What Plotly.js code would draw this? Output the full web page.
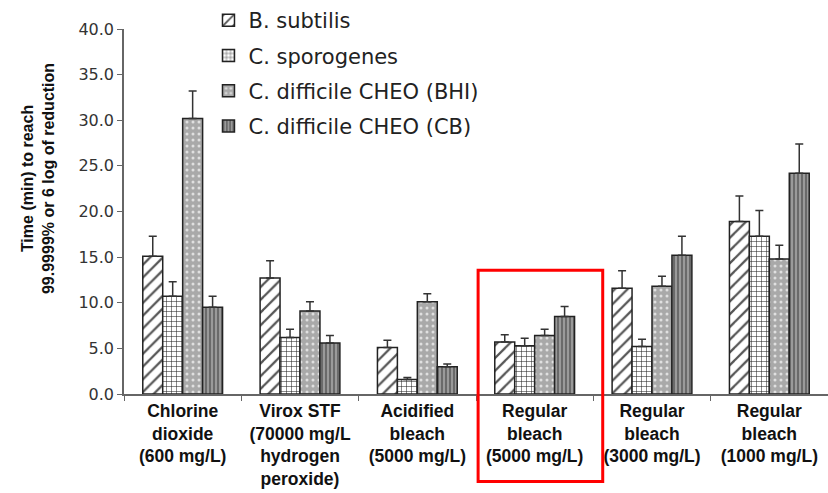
<!DOCTYPE html>
<html><head><meta charset="utf-8">
<script src="https://cdn.plot.ly/plotly-3.0.1.min.js"></script>
<style>body{margin:0;background:#fff}#c{width:828px;height:493px}</style>
</head><body><div id="c"></div>
<script>
const categories = [
  "Chlorine<br>dioxide<br>(600 mg/L)",
  "Virox STF<br>(70000 mg/L<br>hydrogen<br>peroxide)",
  "Acidified<br>bleach<br>(5000 mg/L)",
  "Regular<br>bleach<br>(5000 mg/L)",
  "Regular<br>bleach<br>(3000 mg/L)",
  "Regular<br>bleach<br>(1000 mg/L)"
];
const seriesNames = ["B. subtilis", "C. sporogenes", "C. difficile CHEO (BHI)", "C. difficile CHEO (CB)"];
const yTitle = "Time (min) to reach<br>99.9999% or 6 log of reduction";
const bSubtilis     = [15.1, 12.7, 5.1, 5.7, 11.6, 18.9];
const bSubtilisErr  = [2.2, 1.9, 0.8, 0.8, 1.9, 2.8];
const cSporogenes    = [10.7, 6.2, 1.6, 5.3, 5.2, 17.3];
const cSporogenesErr = [1.6, 0.9, 0.2, 0.8, 0.8, 2.8];
const cdBHI    = [30.2, 9.1, 10.1, 6.4, 11.8, 14.8];
const cdBHIErr = [3.0, 1.0, 0.9, 0.7, 1.1, 1.5];
const cdCB    = [9.5, 5.6, 3.0, 8.5, 15.2, 24.2];
const cdCBErr = [1.2, 0.8, 0.3, 1.1, 2.1, 3.2];

const values = [bSubtilis, cSporogenes, cdBHI, cdCB];
const errs = [bSubtilisErr, cSporogenesErr, cdBHIErr, cdCBErr];
const patterns = [
  {shape: "/", bgcolor: "#ffffff", fgcolor: "#555555", size: 9, solidity: 0.25},
  {shape: "+", bgcolor: "#ffffff", fgcolor: "#222222", size: 5, solidity: 0.2},
  {shape: ".", bgcolor: "#a9a9a9", fgcolor: "#e0e0e0", size: 6, solidity: 0.2},
  {shape: "|", bgcolor: "#9a9a9a", fgcolor: "#555555", size: 4, solidity: 0.35}
];

const traces = seriesNames.map((n, i) => ({
  type: "bar",
  name: n,
  legendgroup: "g" + i,
  x: categories,
  y: values[i],
  marker: {color: patterns[i].bgcolor, pattern: patterns[i], line: {color: "#222", width: 1.5}},
  error_y: {type: "data", symmetric: false, array: errs[i], arrayminus: errs[i].map(() => 0),
            color: "#333", thickness: 1.5, width: 4}
}));

const layout = {
  width: 828, height: 493,
  margin: {l: 124, r: 0, t: 28, b: 99},
  paper_bgcolor: "#fff", plot_bgcolor: "#fff",
  font: {family: "Liberation Sans, Arial, sans-serif", color: "#222"},
  barmode: "group", bargap: 0.32, bargroupgap: 0,
  showlegend: true,
  legend: {x: 0.12, y: 1.08, xanchor: "left", yanchor: "top", traceorder: "grouped",
           tracegroupgap: 5, font: {size: 21, color: "#222", family: "DejaVu Sans, sans-serif"},
           bgcolor: "rgba(0,0,0,0)"},
  xaxis: {
    type: "category", showline: true, linecolor: "#666", linewidth: 1.5,
    ticks: "outside", tickson: "boundaries", ticklen: 5, tickcolor: "#666",
    tickfont: {size: 17.5, color: "#111", family: "Liberation Sans, Arial, sans-serif", weight: "bold"},
    showgrid: false, zeroline: false
  },
  yaxis: {
    range: [0, 40], dtick: 5, tickformat: ".1f", showline: true, linecolor: "#666", linewidth: 1.5,
    ticks: "outside", ticklen: 5, tickcolor: "#666", showgrid: false, zeroline: false,
    tickfont: {size: 16, color: "#333", family: "DejaVu Sans, sans-serif"}
  },
  annotations: [{text: yTitle, xref: "paper", yref: "paper", x: -0.123, y: 0.59,
                 xanchor: "center", yanchor: "middle", textangle: -90, showarrow: false,
                 font: {size: 16, color: "#111", weight: "bold"}}],
  shapes: [{type: "rect", xref: "paper", yref: "paper", x0: 0.503, x1: 0.680, y0: -0.240, y1: 0.339,
            line: {color: "#ff0000", width: 3}, fillcolor: "rgba(0,0,0,0)", layer: "above"}]
};
Plotly.newPlot("c", traces, layout, {displayModeBar: false});
</script></body></html>
